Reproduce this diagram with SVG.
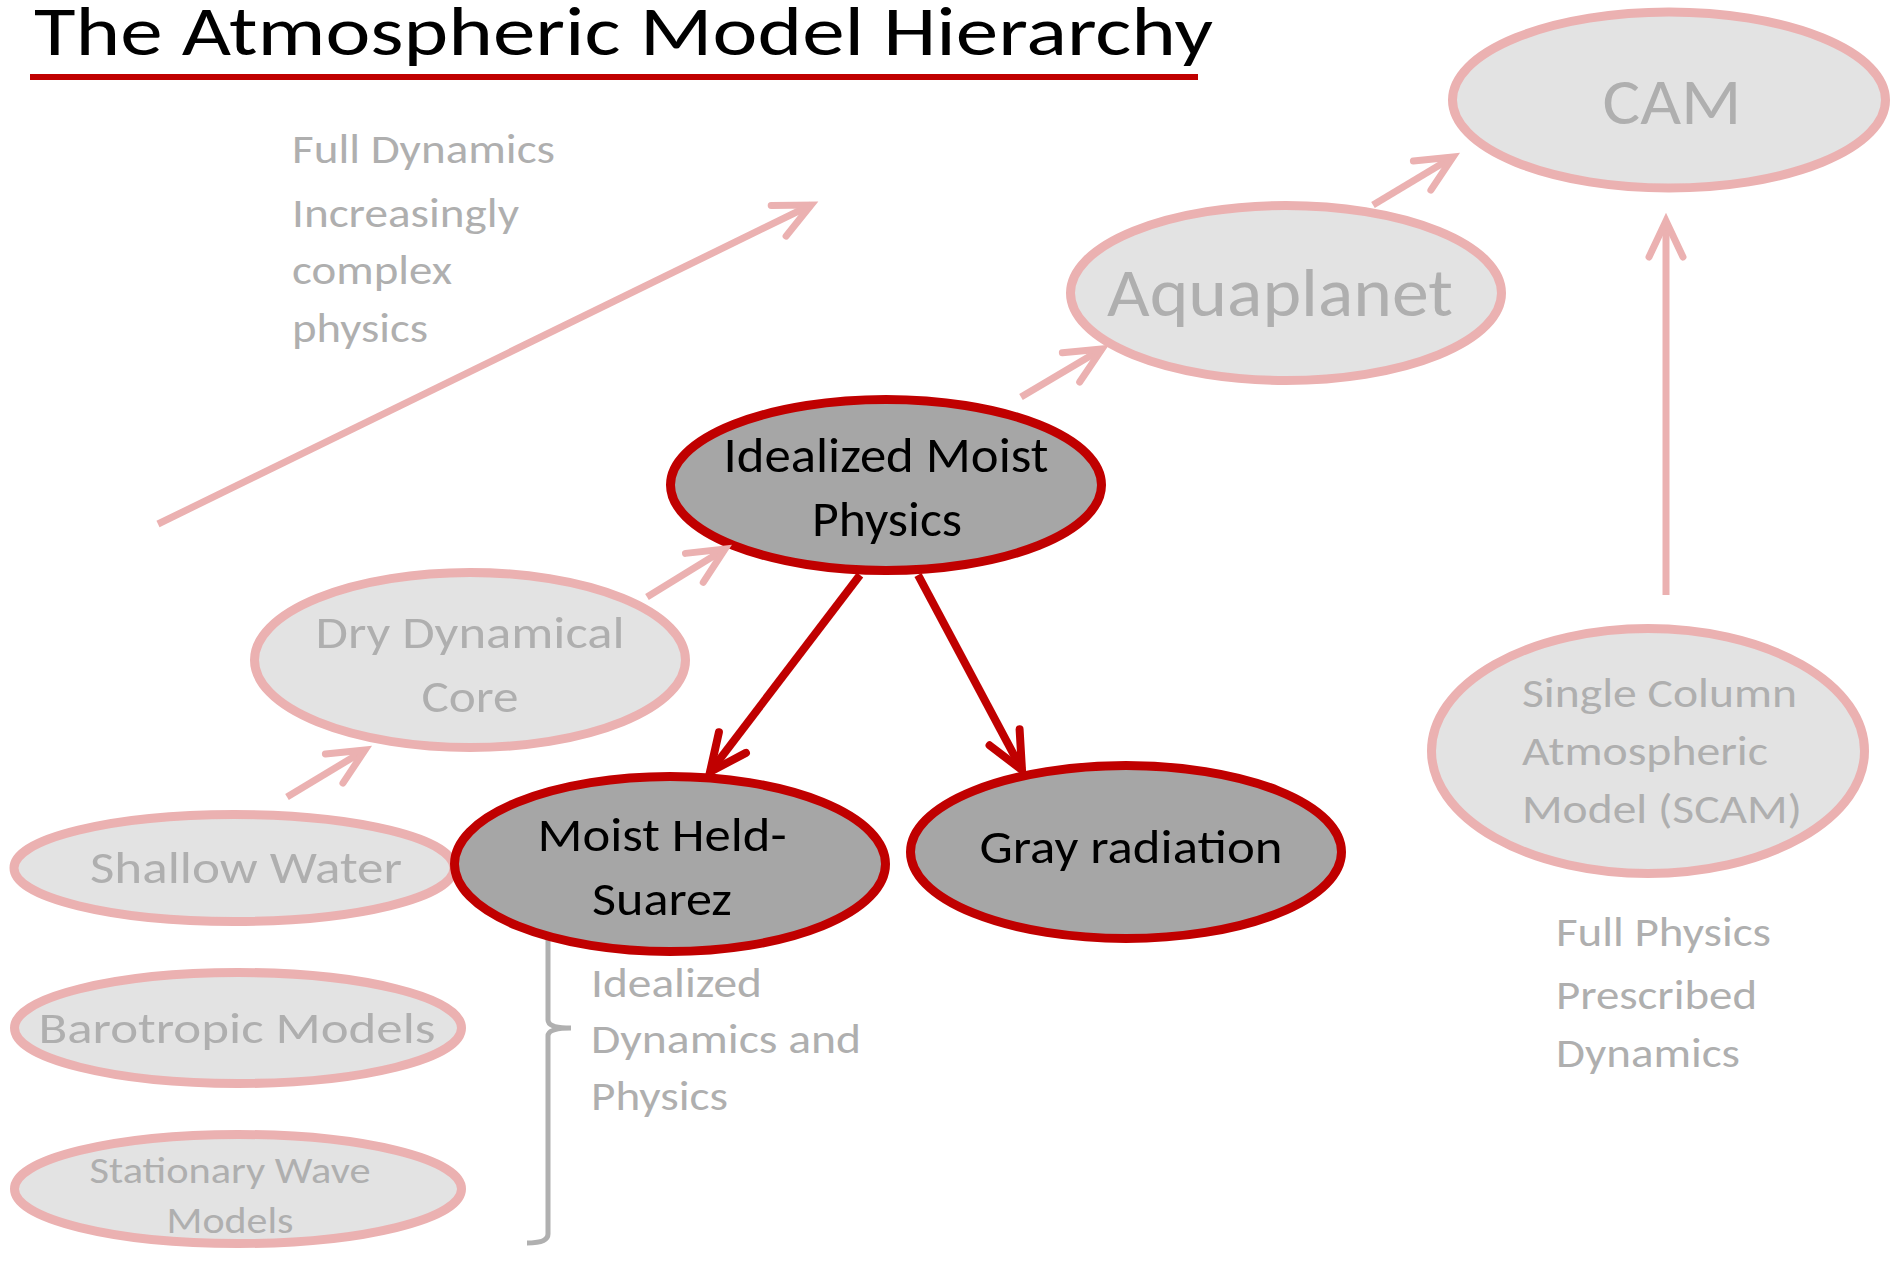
<svg xmlns="http://www.w3.org/2000/svg" width="1893" height="1261" viewBox="0 0 1893 1261">
<style>
text{font-family:Carlito,Lato,"Liberation Sans",sans-serif}
.lite{fill:#e3e3e3;stroke:#ebb1b1;stroke-width:9}
.dark{fill:#a6a6a6;stroke:#c00000;stroke-width:9}
.lt{fill:#afafaf;text-anchor:middle}
.dt{fill:#000;text-anchor:middle}
.note{fill:#afafaf}
.pink{fill:none;stroke:#ebb1b1;stroke-width:7;marker-end:url(#mp)}
.red{fill:none;stroke:#c00000;stroke-width:8;marker-end:url(#mr)}
</style>
<defs>
<marker id="mp" markerUnits="userSpaceOnUse" viewBox="-45 -25 55 50" refX="0" refY="0" markerWidth="55" markerHeight="50" orient="auto" overflow="visible">
<path d="M-36 -17 L0 0 L-36 17" fill="none" stroke="#ebb1b1" stroke-width="7" stroke-linecap="round" stroke-linejoin="miter"/>
</marker>
<marker id="mr" markerUnits="userSpaceOnUse" viewBox="-45 -25 55 50" refX="0" refY="0" markerWidth="55" markerHeight="50" orient="auto" overflow="visible">
<path d="M-37 -17 L0 0 L-37 17" fill="none" stroke="#c00000" stroke-width="8" stroke-linecap="round" stroke-linejoin="miter"/>
</marker>
</defs>
<rect width="1893" height="1261" fill="#fff"/>
<g id="title">
<text x="34" y="55" font-size="70" fill="#000" textLength="1179" lengthAdjust="spacingAndGlyphs">The Atmospheric Model Hierarchy</text>
<rect x="30" y="74" width="1168" height="6" fill="#c00000"/>
</g>
<g id="notes" font-size="42">
<text class="note" x="292" y="163" textLength="263" lengthAdjust="spacingAndGlyphs">Full Dynamics</text>
<text class="note" x="292" y="227" textLength="227" lengthAdjust="spacingAndGlyphs">Increasingly</text>
<text class="note" x="292" y="284" textLength="160" lengthAdjust="spacingAndGlyphs">complex</text>
<text class="note" x="292" y="342" textLength="136" lengthAdjust="spacingAndGlyphs">physics</text>
<text class="note" x="591" y="997" textLength="171" lengthAdjust="spacingAndGlyphs">Idealized</text>
<text class="note" x="591" y="1053" textLength="270" lengthAdjust="spacingAndGlyphs">Dynamics and</text>
<text class="note" x="591" y="1110" textLength="137" lengthAdjust="spacingAndGlyphs">Physics</text>
<text class="note" x="1556" y="946" textLength="215" lengthAdjust="spacingAndGlyphs">Full Physics</text>
<text class="note" x="1556" y="1009" textLength="201" lengthAdjust="spacingAndGlyphs">Prescribed</text>
<text class="note" x="1556" y="1067" textLength="184" lengthAdjust="spacingAndGlyphs">Dynamics</text>
</g>
<g id="brace">
<path d="M548 925 L548 1020 Q548 1028 571 1028 Q548 1028 548 1036 L548 1234 Q548 1243 527 1243" fill="none" stroke="#b0b0b0" stroke-width="5"/>
</g>
<g id="node-cam">
<ellipse class="lite" cx="1669" cy="100" rx="216.5" ry="88"/>
<text class="lt" x="1672" y="124" font-size="66" textLength="139" lengthAdjust="spacingAndGlyphs">CAM</text>
</g>
<g id="node-aquaplanet">
<ellipse class="lite" cx="1286" cy="293" rx="215.5" ry="87.5"/>
<text class="lt" x="1280" y="316" font-size="67" textLength="346" lengthAdjust="spacingAndGlyphs">Aquaplanet</text>
</g>
<g id="node-dry" font-size="46">
<ellipse class="lite" cx="470" cy="660" rx="215.5" ry="87.5"/>
<text class="lt" x="470" y="648" textLength="309" lengthAdjust="spacingAndGlyphs">Dry Dynamical</text>
<text class="lt" x="470" y="712" textLength="97" lengthAdjust="spacingAndGlyphs">Core</text>
</g>
<g id="node-shallow">
<ellipse class="lite" cx="234" cy="868" rx="220" ry="53.5"/>
<text class="lt" x="246" y="883" font-size="46" textLength="312" lengthAdjust="spacingAndGlyphs">Shallow Water</text>
</g>
<g id="node-barotropic">
<ellipse class="lite" cx="238" cy="1028" rx="223.5" ry="55.5"/>
<text class="lt" x="237" y="1043" font-size="44" textLength="397" lengthAdjust="spacingAndGlyphs">Barotropic Models</text>
</g>
<g id="node-stationary" font-size="37">
<ellipse class="lite" cx="238" cy="1189" rx="223.5" ry="54.5"/>
<text class="lt" x="230" y="1183" textLength="281" lengthAdjust="spacingAndGlyphs">Stationary Wave</text>
<text class="lt" x="230" y="1233" textLength="127" lengthAdjust="spacingAndGlyphs">Models</text>
</g>
<g id="node-scam" font-size="42">
<ellipse class="lite" cx="1648" cy="751" rx="216.5" ry="122.5"/>
<text class="note" x="1522" y="707" textLength="275" lengthAdjust="spacingAndGlyphs">Single Column</text>
<text class="note" x="1522" y="765" textLength="246" lengthAdjust="spacingAndGlyphs">Atmospheric</text>
<text class="note" x="1522" y="823" textLength="280" lengthAdjust="spacingAndGlyphs">Model (SCAM)</text>
</g>
<g id="node-idealized" font-size="49">
<ellipse class="dark" cx="886" cy="485" rx="215.5" ry="85.5"/>
<text class="dt" x="886" y="472" textLength="325" lengthAdjust="spacingAndGlyphs">Idealized Moist</text>
<text class="dt" x="887" y="536" textLength="150" lengthAdjust="spacingAndGlyphs">Physics</text>
</g>
<g id="node-heldsuarez" font-size="48">
<ellipse class="dark" cx="670" cy="864" rx="215.5" ry="87.5"/>
<text class="dt" x="662" y="851" textLength="249" lengthAdjust="spacingAndGlyphs">Moist Held-</text>
<text class="dt" x="662" y="915" textLength="140" lengthAdjust="spacingAndGlyphs">Suarez</text>
</g>
<g id="node-gray">
<ellipse class="dark" cx="1126" cy="852" rx="215.5" ry="86.5"/>
<text class="dt" x="1131" y="863" font-size="48" textLength="303" lengthAdjust="spacingAndGlyphs">Gray radiation</text>
</g>
<g id="connectors">
<path class="pink" d="M158 524 L811 205"/>
<path class="pink" d="M287 797 L365 750"/>
<path class="pink" d="M647 597 L725 549"/>
<path class="pink" d="M1021 397 L1102 349"/>
<path class="pink" d="M1373 205 L1453 157"/>
<path class="pink" d="M1666 595 L1666 221"/>
<path class="red" d="M860 575 L710 772"/>
<path class="red" d="M918 575 L1022 770"/>
</g>
</svg>
